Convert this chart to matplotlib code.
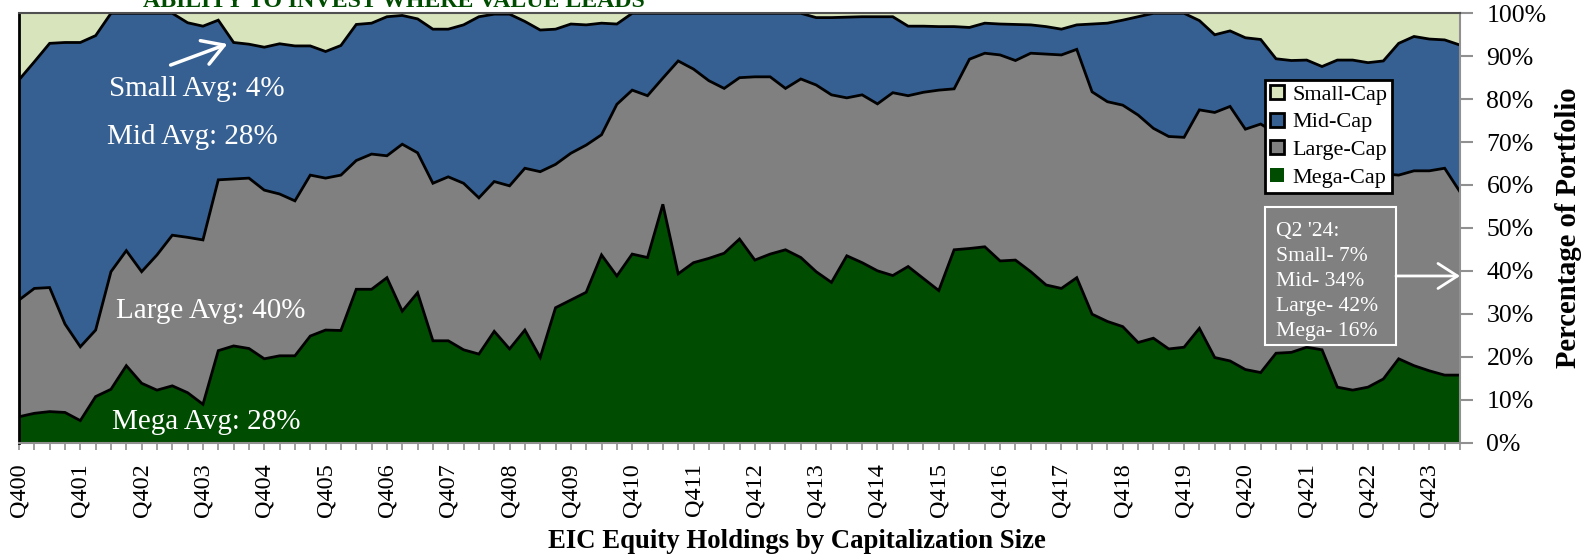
import matplotlib
matplotlib.use("Agg")
import matplotlib.pyplot as plt
from matplotlib.patches import Patch, Rectangle, FancyArrowPatch
import numpy as np

plt.rcParams['font.family'] = ['Liberation Serif', 'DejaVu Serif']

# quarters Q4 2000 .. Q2 2024
quarters = ["Q400"]
for yr in range(1, 24):
    for q in range(1, 5):
        quarters.append("Q%d%02d" % (q, yr))
quarters += ["Q124", "Q224"]

# share of portfolio, percent
mega = [6.0, 6.8, 7.2, 7.0, 5.1, 10.7, 12.4, 17.9, 13.8, 12.2, 13.2, 11.6, 8.9, 21.4, 22.5, 21.9,
        19.5, 20.2, 20.2, 24.8, 26.2, 26.1, 35.7, 35.7, 38.4, 30.6, 34.9, 23.7, 23.7, 21.6, 20.6, 25.9,
        21.8, 26.2, 19.8, 31.4, 33.2, 35.0, 43.7, 38.8, 43.9, 43.1, 55.5, 39.3, 41.9, 42.9, 44.1, 47.4,
        42.5, 43.9, 44.9, 43.1, 39.8, 37.3, 43.5, 41.9, 40.0, 38.9, 41.0, 38.2, 35.4, 44.9, 45.2, 45.6,
        42.3, 42.5, 39.8, 36.7, 35.9, 38.4, 29.9, 28.2, 27.0, 23.3, 24.3, 21.8, 22.2, 26.6, 19.8, 19.0,
        17.0, 16.3, 20.8, 21.0, 22.2, 21.6, 12.9, 12.2, 12.9, 14.8, 19.5, 17.9, 16.7, 15.7, 15.7]
large = [27.2, 29.1, 28.9, 20.6, 17.2, 15.5, 27.4, 26.8, 26.0, 31.5, 35.1, 36.2, 38.3, 39.8, 38.9, 39.7,
         39.3, 37.7, 36.1, 37.5, 35.4, 36.2, 30.0, 31.5, 28.4, 38.9, 32.6, 36.7, 38.2, 38.8, 36.4, 34.9,
         38.0, 37.7, 43.3, 33.4, 34.2, 34.3, 28.0, 40.0, 38.2, 37.7, 29.4, 49.6, 45.1, 41.4, 38.4, 37.6,
         42.7, 41.3, 37.6, 41.6, 43.5, 43.7, 36.8, 39.1, 38.9, 42.6, 39.8, 43.4, 46.7, 37.5, 44.1, 45.1,
         48.0, 46.5, 50.9, 53.8, 54.4, 53.2, 51.8, 51.2, 51.6, 53.0, 48.9, 49.5, 48.9, 50.9, 57.1, 59.3,
         56.0, 57.9, 51.2, 49.0, 45.3, 43.9, 51.1, 51.3, 50.1, 47.8, 42.8, 45.4, 46.6, 48.2, 42.7]
mid = [51.3, 52.8, 56.9, 65.6, 70.9, 68.6, 60.2, 55.3, 60.2, 56.3, 51.7, 50.0, 49.8, 37.2, 31.8, 31.2,
       33.3, 35.0, 36.1, 30.1, 29.5, 30.2, 31.7, 30.5, 32.4, 30.0, 31.2, 35.9, 34.4, 36.9, 42.2, 39.0,
       40.0, 34.2, 33.0, 31.5, 30.1, 28.0, 26.0, 18.7, 17.9, 19.2, 15.1, 11.1, 13.0, 15.7, 17.5, 15.0,
       14.8, 14.8, 17.5, 15.3, 15.7, 18.0, 18.8, 18.2, 20.3, 17.7, 16.2, 15.4, 14.8, 14.5, 7.4, 7.0,
       7.2, 8.4, 6.6, 6.4, 6.0, 5.7, 15.8, 18.3, 19.8, 22.9, 26.8, 28.7, 28.9, 20.8, 18.1, 17.6,
       21.3, 19.7, 17.4, 19.0, 21.6, 22.1, 25.1, 25.6, 25.5, 26.3, 30.7, 31.3, 30.7, 29.9, 34.2]
small = [15.5, 11.3, 7.0, 6.8, 6.8, 5.2, 0.0, 0.0, 0.0, 0.0, 0.0, 2.2, 3.0, 1.6, 6.8, 7.2,
         7.9, 7.1, 7.6, 7.6, 8.9, 7.5, 2.6, 2.3, 0.8, 0.5, 1.3, 3.7, 3.7, 2.7, 0.8, 0.2,
         0.2, 1.9, 3.9, 3.7, 2.5, 2.7, 2.3, 2.5, 0.0, 0.0, 0.0, 0.0, 0.0, 0.0, 0.0, 0.0,
         0.0, 0.0, 0.0, 0.0, 1.0, 1.0, 0.9, 0.8, 0.8, 0.8, 3.0, 3.0, 3.1, 3.1, 3.3, 2.3,
         2.5, 2.6, 2.7, 3.1, 3.7, 2.7, 2.5, 2.3, 1.6, 0.8, 0.0, 0.0, 0.0, 1.7, 5.0, 4.1,
         5.7, 6.1, 10.6, 11.0, 10.9, 12.4, 10.9, 10.9, 11.5, 11.1, 7.0, 5.4, 6.0, 6.2, 7.4]

series_names = ["Small-Cap", "Mid-Cap", "Large-Cap", "Mega-Cap"]
avg_labels = ["Small Avg: 4%", "Mid Avg: 28%", "Large Avg: 40%", "Mega Avg: 28%"]
latest_text = "Q2 '24:\nSmall- 7%\nMid- 34%\nLarge- 42%\nMega- 16%"

c_small = "#D8E4BC"
c_mid = "#376092"
c_large = "#808080"
c_mega = "#004C00"

W, H = 1581, 554
fig = plt.figure(figsize=(W / 100, H / 100), dpi=100)
ax = fig.add_axes([19 / W, 1 - 442.5 / H, 1441 / W, 429.2 / H])

x = np.arange(len(quarters))
ax.stackplot(x, mega, large, mid, small, colors=[c_mega, c_large, c_mid, c_small], linewidth=0)
c1 = np.array(mega)
c2 = c1 + np.array(large)
c3 = c2 + np.array(mid)
for c in (c1, c2, c3):
    ax.plot(x, c, color="black", lw=2, solid_joinstyle="miter")

ax.set_xlim(0, len(quarters) - 1)
ax.set_ylim(0, 100)

ax.set_xticks(x)
ax.set_xticklabels([q if i % 4 == 0 else "" for i, q in enumerate(quarters)], rotation=90, fontsize=17.5)
ax.tick_params(axis="x", length=5, width=1.2, color="#909090", pad=10)

ax.yaxis.tick_right()
ax.set_yticks(np.arange(0, 101, 10))
ax.set_yticklabels(["%d%%" % v for v in range(0, 101, 10)], fontsize=18.5)
ax.tick_params(axis="y", length=9, width=1.5, color="#909090", pad=10)

for s in ["bottom", "right"]:
    ax.spines[s].set_color("#909090")
    ax.spines[s].set_linewidth(1.5)
ax.spines["top"].set_color("#505050")
ax.spines["top"].set_linewidth(1.5)
ax.spines["left"].set_color("black")
ax.spines["left"].set_linewidth(2)

# legend
handles = [Patch(facecolor=c_small, edgecolor="black", lw=2),
           Patch(facecolor=c_mid, edgecolor="black", lw=2),
           Patch(facecolor=c_large, edgecolor="black", lw=2),
           Patch(facecolor=c_mega, edgecolor="none")]
leg = ax.legend(handles, series_names, loc="upper left", bbox_to_anchor=(0.8649, 0.8446),
                borderaxespad=0, fontsize=16, handlelength=0.6, handleheight=0.6,
                handletextpad=0.4, labelspacing=0.35, borderpad=0.22, fancybox=False,
                framealpha=1)
leg.get_frame().set_edgecolor("black")
leg.get_frame().set_linewidth(2)

# latest quarter box
ax.add_patch(Rectangle((0.8649, 0.2279), 0.0907, 0.3201, transform=ax.transAxes,
                       facecolor=c_large, edgecolor="white", lw=1.5, zorder=5))
fig.text(1276 / W, 1 - 222 / H, latest_text, color="white", fontsize=15.6, va="top", ha="left",
         linespacing=1.43, zorder=6)
ax.annotate("", xy=(1.0, 0.388), xytext=(0.9556, 0.388), xycoords="axes fraction",
            arrowprops=dict(arrowstyle="->,head_length=0.7,head_width=0.45", color="white",
                            lw=2, mutation_scale=20, shrinkA=0, shrinkB=0), zorder=6)

# average labels
avg_pos = [(109, 89), (107, 137), (116, 311), (112, 422)]
for txt, (px, py) in zip(avg_labels, avg_pos):
    fig.text(px / W, 1 - py / H, txt, color="white", fontsize=21, va="center", ha="left")
fig.add_artist(FancyArrowPatch(
    (168 / W, 1 - 66 / H), (230 / W, 1 - 43 / H), transform=fig.transFigure,
    arrowstyle="->,head_length=0.75,head_width=0.45", mutation_scale=20, color="white", lw=2.5))

# titles
fig.text(394 / W, 1 - 6.7 / H, "ABILITY TO INVEST WHERE VALUE LEADS", color=c_mega,
         fontsize=17.2, fontweight="bold", ha="center", va="baseline")
fig.text(797 / W, 1 - 542 / H, "EIC Equity Holdings by Capitalization Size", fontsize=19.3,
         fontweight="bold", ha="center", va="center")
fig.text(1569 / W, 1 - 228 / H, "Percentage of Portfolio", fontsize=20.6, fontweight="bold",
         rotation=90, ha="center", va="center")

fig.savefig("out.png", dpi=100)
